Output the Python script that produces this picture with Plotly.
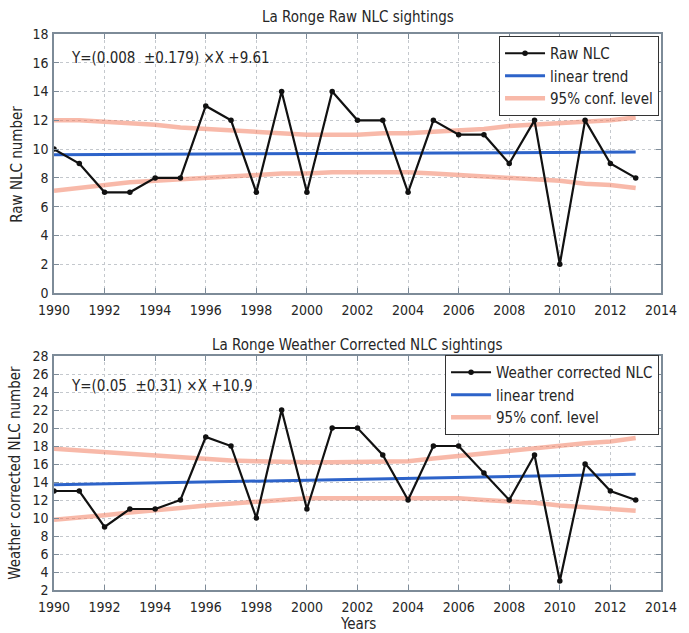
import plotly.graph_objects as go

# ---- data -------------------------------------------------------------
years = list(range(1990, 2014))

raw_nlc = [10, 9, 7, 7, 8, 8, 13, 12, 7, 14, 7, 14, 12, 12, 7, 12, 11, 11, 9, 12, 2, 12, 9, 8]
raw_conf_upper = [12.0, 12.0, 11.9, 11.8, 11.7, 11.5, 11.4, 11.3, 11.2, 11.1, 11.0, 11.0,
                  11.0, 11.1, 11.1, 11.2, 11.3, 11.4, 11.6, 11.7, 11.8, 11.9, 12.0, 12.2]
raw_conf_lower = [7.1, 7.3, 7.5, 7.7, 7.8, 7.9, 8.0, 8.1, 8.2, 8.3, 8.3, 8.4,
                  8.4, 8.4, 8.4, 8.3, 8.2, 8.1, 8.0, 7.9, 7.8, 7.6, 7.5, 7.3]
raw_trend_start, raw_trend_slope = 9.61, 0.008

wc_nlc = [13, 13, 9, 11, 11, 12, 19, 18, 10, 22, 11, 20, 20, 17, 12, 18, 18, 15, 12, 17, 3, 16, 13, 12]
wc_conf_upper = [17.7, 17.5, 17.3, 17.2, 17.0, 16.8, 16.6, 16.4, 16.3, 16.2, 16.2, 16.2,
                 16.2, 16.2, 16.3, 16.6, 16.9, 17.2, 17.4, 17.7, 18.0, 18.3, 18.5, 18.9]
wc_conf_lower = [9.8, 10.0, 10.3, 10.6, 10.8, 11.1, 11.4, 11.6, 11.8, 12.0, 12.2, 12.2,
                 12.2, 12.3, 12.3, 12.3, 12.2, 12.0, 11.9, 11.7, 11.4, 11.2, 11.0, 10.8]
wc_trend_start, wc_trend_slope = 13.7, 0.05

x_ticks = list(range(1990, 2015, 2))
raw_y_ticks = list(range(0, 19, 2))
wc_y_ticks = list(range(2, 29, 2))

# ---- styling ----------------------------------------------------------
FONT = "DejaVu Sans Condensed, Liberation Sans Narrow, Roboto, sans-serif"
TXT = "#262626"
BLACK = "#111111"
BLUE = "#2d63c9"
CONF = "rgba(242,128,98,0.55)"
FRAME = "#7d8b98"
GRID = "#c4c8cd"

W, H = 689, 633
ML, MR, MT, MB = 54, 16, 34, 43
PW, PH = W - ML - MR, H - MT - MB


def px_x(px):
    """figure pixel -> paper x"""
    return (px - ML) / PW


def px_y(py):
    """figure pixel -> paper y"""
    return (H - MB - py) / PH


fig = go.Figure()


def add_panel(xa, ya, legend, values, name, up, lo, t0, slope):
    trend = [t0 + slope * (y - years[0]) for y in years]
    fig.add_trace(go.Scatter(x=years, y=up, mode="lines", name="95% conf. level",
                             line=dict(color=CONF, width=4.5), xaxis=xa, yaxis=ya,
                             legend=legend, legendrank=3))
    fig.add_trace(go.Scatter(x=years, y=lo, mode="lines", showlegend=False,
                             line=dict(color=CONF, width=4.5), xaxis=xa, yaxis=ya,
                             legend=legend))
    fig.add_trace(go.Scatter(x=years, y=trend, mode="lines", name="linear trend",
                             line=dict(color=BLUE, width=3), xaxis=xa, yaxis=ya,
                             legend=legend, legendrank=2))
    fig.add_trace(go.Scatter(x=years, y=values, mode="lines+markers", name=name,
                             line=dict(color=BLACK, width=2.2),
                             marker=dict(color=BLACK, size=5.5),
                             xaxis=xa, yaxis=ya, legend=legend, legendrank=1))


add_panel("x", "y", "legend", raw_nlc, "Raw NLC",
          raw_conf_upper, raw_conf_lower, raw_trend_start, raw_trend_slope)
add_panel("x2", "y2", "legend2", wc_nlc, "Weather corrected NLC",
          wc_conf_upper, wc_conf_lower, wc_trend_start, wc_trend_slope)

axis_common = dict(
    showline=True, linecolor=FRAME, linewidth=1.5, mirror="ticks",
    ticks="inside", ticklen=5, tickcolor=FRAME,
    showgrid=True, gridcolor=GRID, griddash="dot", gridwidth=1,
    zeroline=False, tickfont=dict(family=FONT, size=14, color=TXT),
)

legend_common = dict(
    font=dict(family=FONT, size=15, color=TXT),
    bgcolor="white", bordercolor="#333333", borderwidth=1,
    xanchor="right", yanchor="top", tracegroupgap=0, itemwidth=40,
)

fig.update_layout(
    width=W, height=H,
    margin=dict(l=ML, r=MR, t=MT, b=MB),
    paper_bgcolor="white", plot_bgcolor="white",
    xaxis=dict(domain=[0, 1], anchor="y", range=[1990, 2014.001], tickvals=x_ticks,
               ticklabelstandoff=3, **axis_common),
    yaxis=dict(domain=[px_y(293), 1], anchor="x", range=[0, 18], tickvals=raw_y_ticks,
               ticklabelstandoff=1, **axis_common),
    xaxis2=dict(domain=[0, 1], anchor="y2", range=[1990, 2014.001], tickvals=x_ticks,
                ticklabelstandoff=3, **axis_common),
    yaxis2=dict(domain=[0, px_y(356)], anchor="x2", range=[2, 28], tickvals=wc_y_ticks,
                ticklabelstandoff=1, **axis_common),
    legend=dict(x=px_x(671), y=px_y(36), **legend_common),
    legend2=dict(x=px_x(671), y=px_y(355), **legend_common),
    showlegend=True,
)

label_font = dict(family=FONT, size=15, color=TXT)

# panel titles
fig.add_annotation(text="La Ronge Raw NLC sightings", x=px_x((ML + W - MR) / 2), y=px_y(17),
                   xref="paper", yref="paper", showarrow=False, xanchor="center",
                   yanchor="middle", font=label_font)
fig.add_annotation(text="La Ronge Weather Corrected NLC sightings", x=px_x((ML + W - MR) / 2),
                   y=px_y(345), xref="paper", yref="paper", showarrow=False,
                   xanchor="center", yanchor="middle", font=label_font)

# equation labels in data coordinates
fig.add_annotation(text="Y=(0.008  \u00b10.179) \u00d7X +9.61", x=1990.6, y=16.3,
                   xref="x", yref="y", xanchor="left", yanchor="middle", showarrow=False,
                   font=label_font)
fig.add_annotation(text="Y=(0.05  \u00b10.31) \u00d7X +10.9", x=1990.6, y=24.7,
                   xref="x2", yref="y2", xanchor="left", yanchor="middle", showarrow=False,
                   font=label_font)

# axis titles
fig.add_annotation(text="Raw NLC number", x=px_x(16), y=px_y(164), xref="paper", yref="paper",
                   textangle=-90, showarrow=False, xanchor="center", yanchor="middle",
                   font=label_font)
fig.add_annotation(text="Weather corrected NLC number", x=px_x(14), y=px_y(473),
                   xref="paper", yref="paper", textangle=-90, showarrow=False,
                   xanchor="center", yanchor="middle", font=label_font)
fig.add_annotation(text="Years", x=px_x((ML + W - MR) / 2), y=px_y(624), xref="paper",
                   yref="paper", showarrow=False, xanchor="center", yanchor="middle",
                   font=label_font)

fig.write_html("out.html")
